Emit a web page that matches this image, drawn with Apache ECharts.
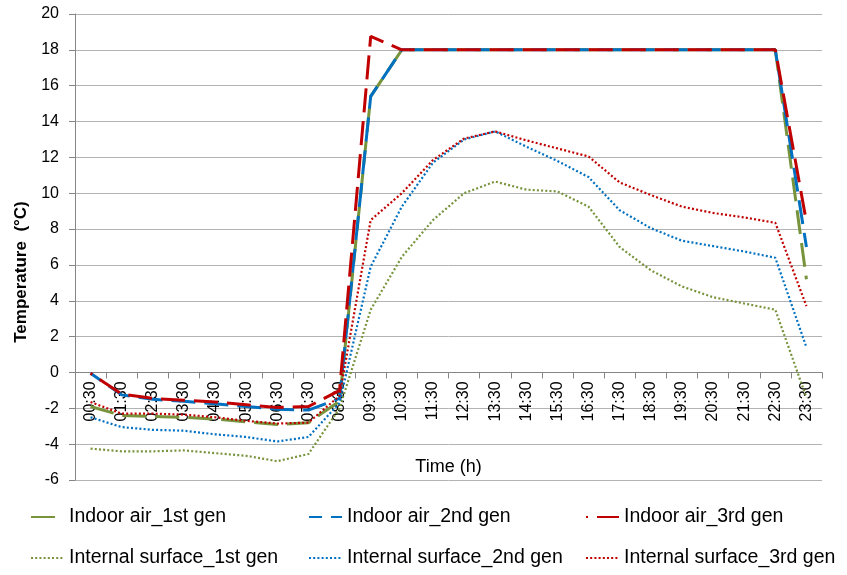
<!DOCTYPE html>
<html>
<head>
<meta charset="utf-8">
<script src="https://cdn.jsdelivr.net/npm/echarts@6/dist/echarts.min.js"></script>
<style>html,body{margin:0;padding:0;background:#fff;}#c{width:847px;height:575px;}</style>
</head>
<body>
<div id="c"></div>
<script>
var categories = ['00:30','01:30','02:30','03:30','04:30','05:30','06:30','07:30','08:30','09:30','10:30','11:30','12:30','13:30','14:30','15:30','16:30','17:30','18:30','19:30','20:30','21:30','22:30','23:30'];
var yTicks = [-6, 20, 2];
var airGen1 = [-1.9,-2.4,-2.45,-2.5,-2.6,-2.75,-2.9,-2.8,-1.6,15.4,18.0,18.0,18.0,18.0,18.0,18.0,18.0,18.0,18.0,18.0,18.0,18.0,18.0,5.2];
var airGen2 = [-0.05,-1.25,-1.5,-1.6,-1.75,-1.9,-2.05,-2.1,-1.45,15.4,18.0,18.0,18.0,18.0,18.0,18.0,18.0,18.0,18.0,18.0,18.0,18.0,18.0,7.0];
var airGen3 = [-0.05,-1.2,-1.45,-1.55,-1.65,-1.8,-1.95,-1.9,-1.0,18.75,18.0,18.0,18.0,18.0,18.0,18.0,18.0,18.0,18.0,18.0,18.0,18.0,18.0,8.4];
var surfGen1 = [-4.25,-4.4,-4.4,-4.35,-4.5,-4.65,-4.95,-4.55,-2.0,3.5,6.45,8.5,10.0,10.65,10.2,10.1,9.25,7.0,5.7,4.8,4.2,3.85,3.5,-1.4];
var surfGen2 = [-2.5,-3.05,-3.2,-3.25,-3.45,-3.6,-3.85,-3.6,-1.7,5.9,9.25,11.7,13.0,13.45,12.6,11.8,10.9,9.05,8.05,7.35,7.05,6.75,6.4,1.4];
var surfGen3 = [-1.65,-2.3,-2.3,-2.35,-2.5,-2.7,-2.85,-2.8,-1.3,8.5,10.0,11.85,13.05,13.45,12.95,12.5,12.05,10.6,9.9,9.25,8.9,8.65,8.35,3.7];

var names = ['Indoor air_1st gen','Indoor air_2nd gen','Indoor air_3rd gen','Internal surface_1st gen','Internal surface_2nd gen','Internal surface_3rd gen'];
var colors = ['#77933C','#0070C0','#C00000','#77933C','#0070C0','#C00000'];
var values = [airGen1, airGen2, airGen3, surfGen1, surfGen2, surfGen3];
var FONT = 'Liberation Sans';

var GRID_TOP = 14, GRID_BOTTOM_PX = 480;
var zeroY = GRID_TOP + (GRID_BOTTOM_PX - GRID_TOP) * (yTicks[1] - 0) / (yTicks[1] - yTicks[0]);

var series = values.map(function (v, i) {
  var dashed = i < 3;
  return {
    name: names[i],
    type: 'line',
    data: v,
    symbol: 'none',
    z: 2 + i,
    lineStyle: {
      color: colors[i],
      width: dashed ? 3 : 2.2,
      type: dashed ? [24, 9] : [2, 2.2],
      dashOffset: dashed ? i * 11 : 0,
      cap: 'butt'
    },
    itemStyle: { color: colors[i] }
  };
});

var legendLeft = [30, 308, 585];
var legendTop = [507, 548];
var legends = names.map(function (n, i) {
  return {
    data: [n],
    left: legendLeft[i % 3],
    top: legendTop[Math.floor(i / 3)],
    padding: 0,
    itemWidth: 33,
    itemHeight: 14,
    itemGap: 0,
    selectedMode: false,
    itemStyle: { opacity: 0 },
    textStyle: { fontFamily: FONT, fontSize: 19.5, color: '#000', padding: [0, 0, 0, 0] }
  };
});

var chart = echarts.init(document.getElementById('c'));
chart.setOption({
  animation: false,
  backgroundColor: '#fff',
  grid: { left: 75, right: 25, top: GRID_TOP, bottom: 575 - GRID_BOTTOM_PX, outerBoundsMode: 'none', containLabel: false },
  legend: legends,
  xAxis: {
    type: 'category',
    data: categories,
    boundaryGap: true,
    offset: -(GRID_BOTTOM_PX - zeroY),
    name: 'Time (h)',
    nameLocation: 'middle',
    nameGap: 86,
    nameTextStyle: { fontFamily: FONT, fontSize: 18, color: '#000' },
    axisLine: { onZero: false, lineStyle: { color: '#868686', width: 1 } },
    axisTick: { show: true, length: 6, alignWithLabel: false, lineStyle: { color: '#868686' } },
    axisLabel: { rotate: 90, interval: 0, margin: 9, fontFamily: FONT, fontSize: 16, color: '#000' },
    splitLine: { show: false }
  },
  yAxis: {
    type: 'value',
    min: yTicks[0],
    max: yTicks[1],
    interval: yTicks[2],
    axisLine: { show: true, lineStyle: { color: '#868686', width: 1 } },
    axisTick: { show: true, length: 6, lineStyle: { color: '#868686' } },
    axisLabel: { margin: 16, fontFamily: FONT, fontSize: 16, color: '#000' },
    splitLine: { show: true, lineStyle: { color: '#b3b3b3', width: 1 } }
  },
  graphic: [{
    type: 'text',
    x: 21,
    y: 272,
    rotation: Math.PI / 2,
    style: {
      text: 'Temperature  (°C)',
      fontFamily: FONT,
      fontSize: 17,
      fontWeight: 'bold',
      fill: '#000',
      align: 'center',
      verticalAlign: 'middle'
    }
  }],
  series: series
});
</script>
</body>
</html>
